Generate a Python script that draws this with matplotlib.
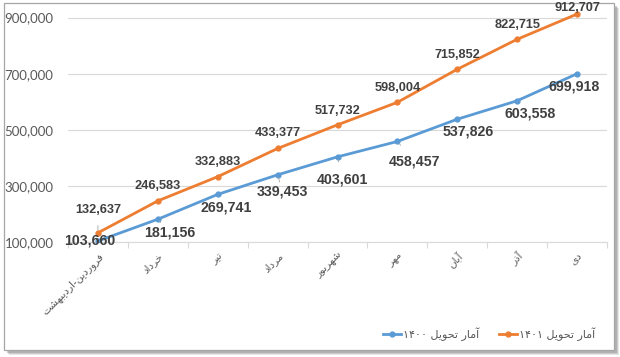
import matplotlib
matplotlib.use("Agg")
import matplotlib.pyplot as plt
from matplotlib.patches import Rectangle
from matplotlib.ticker import FuncFormatter, FixedLocator

# ---------------- data ----------------
months = ['فروردین-اردیبهشت', 'خرداد', 'تیر', 'مرداد', 'شهریور', 'مهر', 'آبان', 'آذر', 'دی']
values_1400 = [103660, 181156, 269741, 339453, 403601, 458457, 537826, 603558, 699918]
values_1401 = [132637, 246583, 332883, 433377, 517732, 598004, 715852, 822715, 912707]
series_words = 'آمار تحویل'
year_1400 = '۱۴۰۰'
year_1401 = '۱۴۰۱'
y_ticks = [100000, 300000, 500000, 700000, 900000]

# ---------------- simple Persian shaping (contextual forms + RTL order) ----------------
FORMS = {
    'ا': ('\uFE8D', '\uFE8E', None, None),
    'آ': ('\uFE81', '\uFE82', None, None),
    'ب': ('\uFE8F', '\uFE90', '\uFE91', '\uFE92'),
    'ت': ('\uFE95', '\uFE96', '\uFE97', '\uFE98'),
    'ح': ('\uFEA1', '\uFEA2', '\uFEA3', '\uFEA4'),
    'خ': ('\uFEA5', '\uFEA6', '\uFEA7', '\uFEA8'),
    'د': ('\uFEA9', '\uFEAA', None, None),
    'ذ': ('\uFEAB', '\uFEAC', None, None),
    'ر': ('\uFEAD', '\uFEAE', None, None),
    'ز': ('\uFEAF', '\uFEB0', None, None),
    'ش': ('\uFEB5', '\uFEB6', '\uFEB7', '\uFEB8'),
    'ف': ('\uFED1', '\uFED2', '\uFED3', '\uFED4'),
    'ل': ('\uFEDD', '\uFEDE', '\uFEDF', '\uFEE0'),
    'م': ('\uFEE1', '\uFEE2', '\uFEE3', '\uFEE4'),
    'ن': ('\uFEE5', '\uFEE6', '\uFEE7', '\uFEE8'),
    'ه': ('\uFEE9', '\uFEEA', '\uFEEB', '\uFEEC'),
    'و': ('\uFEED', '\uFEEE', None, None),
    'ی': ('\uFEEF', '\uFEF0', '\uFEF3', '\uFEF4'),
}


def shape(text):
    out = []
    n = len(text)
    for i, ch in enumerate(text):
        if ch not in FORMS:
            out.append(ch)
            continue
        prev = text[i - 1] if i > 0 else ''
        nxt = text[i + 1] if i < n - 1 else ''
        jp = prev in FORMS and FORMS[prev][2] is not None
        jn = FORMS[ch][2] is not None and nxt in FORMS
        iso, fin, ini, med = FORMS[ch]
        if jp and jn:
            out.append(med)
        elif jp:
            out.append(fin)
        elif jn:
            out.append(ini)
        else:
            out.append(iso)
    return ''.join(reversed(out))


# ---------------- figure ----------------
W, H = 620, 357
fig = plt.figure(figsize=(W / 100, H / 100), dpi=100)
fig.patch.set_facecolor('white')

# frame with drop shadow
for k, a in [(5, 0.18), (4, 0.25), (3, 0.35)]:
    fig.add_artist(Rectangle(((4 + k) / W, (H - 350 - k) / H), 610 / W, 347 / H,
                             transform=fig.transFigure, facecolor='#7f7f7f', alpha=a,
                             edgecolor='none', zorder=0))
fig.add_artist(Rectangle((4 / W, (H - 350) / H), 610 / W, 347 / H,
                         transform=fig.transFigure, facecolor='white',
                         edgecolor='#A6A6A6', lw=0.9, zorder=0.5))

ax = fig.add_axes([68 / W, 1 - 242 / H, (607 - 68) / W, (242 - 5) / H])
ax.set_facecolor('none')
ax.set_zorder(2)

x = list(range(len(months)))
blue = '#5B9BD5'
orange = '#ED7D31'

ax.plot(x, values_1400, color=blue, lw=2.0, marker='o', ms=3.5, zorder=3,
        label=year_1400 + ' ' + shape(series_words))
ax.plot(x, values_1401, color=orange, lw=2.0, marker='o', ms=3.5, zorder=3,
        label=year_1401 + ' ' + shape(series_words))

ax.set_xlim(-0.5, len(months) - 0.5)
ax.set_ylim(100000, 945000)
ax.set_yticks(y_ticks)
ax.yaxis.set_major_formatter(FuncFormatter(lambda v, p: f'{int(v):,}'))
ax.grid(axis='y', color='#D9D9D9', lw=0.8)
ax.set_axisbelow(True)
for s in ['top', 'right', 'left']:
    ax.spines[s].set_visible(False)
ax.spines['bottom'].set_color('#D9D9D9')
ax.spines['bottom'].set_linewidth(0.8)

ax.tick_params(axis='y', length=0, labelsize=9.5, labelcolor='#595959', pad=10.5)
for t in ax.get_yticklabels():
    t.set_fontfamily('Lato')

ax.set_xticks(x)
ax.set_xticklabels([shape(m) for m in months], rotation=45, ha='right',
                   rotation_mode='anchor', fontsize=7.5, color='#595959',
                   family='DejaVu Sans')
ax.tick_params(axis='x', length=0, pad=6)
ax.xaxis.set_minor_locator(FixedLocator([i + 0.5 for i in range(len(months) - 1)] + [-0.5, len(months) - 0.5]))
ax.tick_params(axis='x', which='minor', length=4, color='#D9D9D9', width=0.8)

# data labels
lab_col = '#404040'
off_1401 = [(0, 23), (0, 15), (0, 15), (0, 15), (0, 14), (0, 14), (0, 14), (0, 14), (0, 6)]
lead_1401 = [True] + [False] * 8
off_1400 = [(-8, 0), (12, -13), (8, -13), (5, -17), (5, -23), (17, -20), (11, -12), (13, -13), (-3, -13)]
lead_1400 = [False, True, False, True, True, True, False, False, False]

for i, v in enumerate(values_1401):
    ap = dict(arrowstyle='-', color='#A6A6A6', lw=0.6, shrinkA=5, shrinkB=2) if lead_1401[i] else None
    ax.annotate(f'{v:,}', (x[i], v), xytext=off_1401[i], textcoords='offset pixels',
                ha='center', va='center', fontsize=9.2, fontweight='bold', color=lab_col,
                family='Liberation Sans', arrowprops=ap, zorder=5, annotation_clip=False)
for i, v in enumerate(values_1400):
    ap = dict(arrowstyle='-', color='#A6A6A6', lw=0.6, shrinkA=6, shrinkB=2) if lead_1400[i] else None
    ax.annotate(f'{v:,}', (x[i], v), xytext=off_1400[i], textcoords='offset pixels',
                ha='center', va='center', fontsize=10.2, fontweight='bold', color=lab_col,
                family='Liberation Sans', arrowprops=ap, zorder=5, annotation_clip=False)

leg = fig.legend(loc='center right', bbox_to_anchor=(605 / W, 1 - 334 / H), ncol=2,
                 frameon=False, prop={'family': 'DejaVu Sans', 'size': 8},
                 handlelength=1.6, handletextpad=0.2, columnspacing=1.8)
for t in leg.get_texts():
    t.set_color('#595959')

fig.savefig('out.png', dpi=100, facecolor='white')
